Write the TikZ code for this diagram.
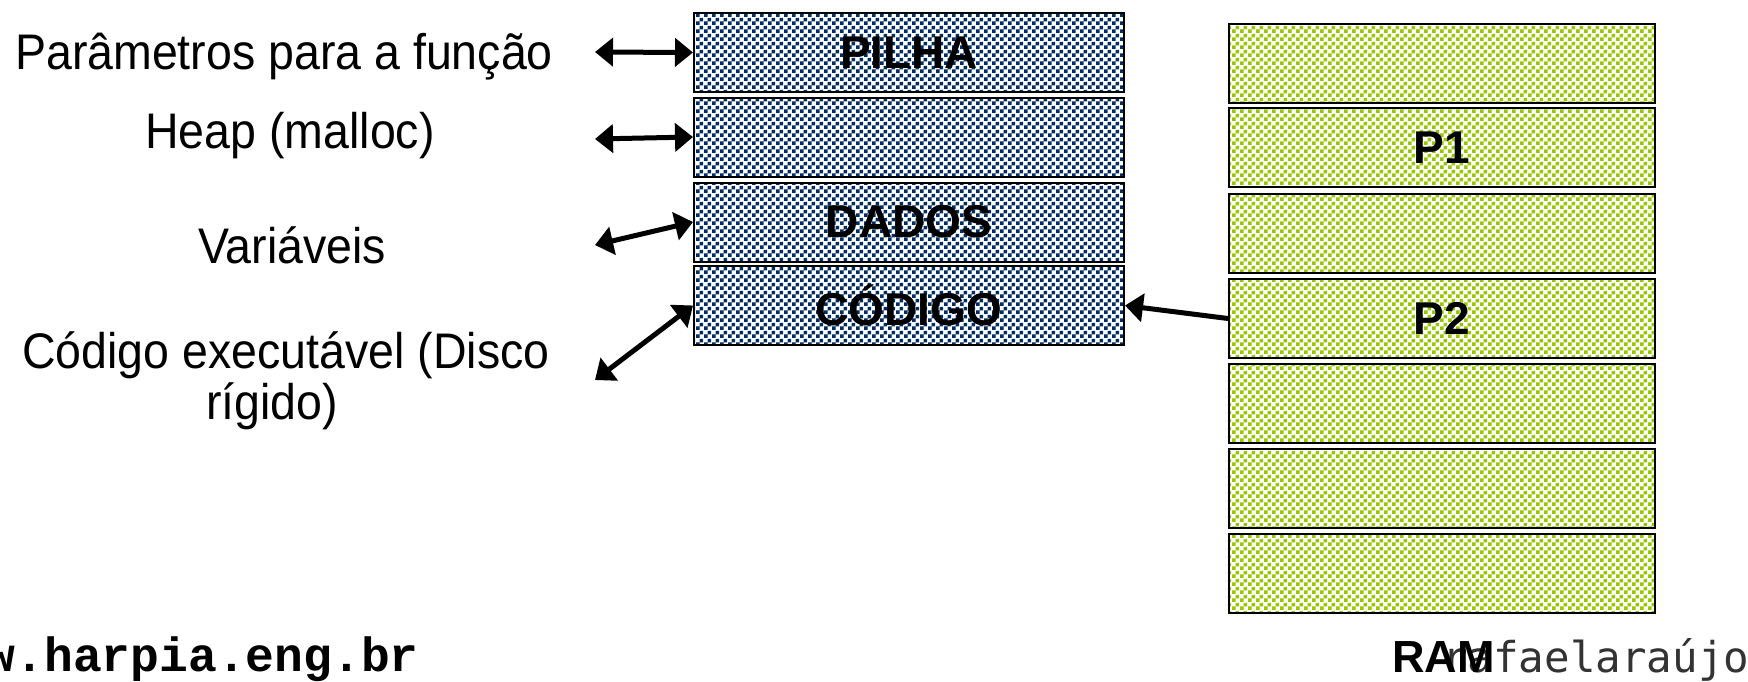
\documentclass[tikz,border=0pt]{standalone}
\usepackage{fontspec}
\setmainfont{Liberation Sans}
\newfontfamily\lblfont[FakeStretch=0.93]{Liberation Sans}
\newfontfamily\webfont{Liberation Mono}
\newfontfamily\sigfont{DejaVu Sans Mono}
\usetikzlibrary{arrows.meta,patterns}
\definecolor{navy}{RGB}{0,45,100}
\definecolor{lime}{RGB}{150,200,0}
\pgfdeclarepatternformonly{chk}{\pgfpointorigin}{\pgfqpoint{8pt}{8pt}}{\pgfqpoint{8pt}{8pt}}{%
  \pgfpathrectangle{\pgfpointorigin}{\pgfqpoint{4pt}{4pt}}%
  \pgfpathrectangle{\pgfqpoint{4pt}{4pt}}{\pgfqpoint{4pt}{4pt}}%
  \pgfusepath{fill}}
\begin{document}
\begin{tikzpicture}[x=1pt,y=-1pt,
  seg/.style={draw=black, line width=2pt, minimum width=430pt, minimum height=79pt,
    inner sep=0pt, pattern=chk, pattern color=navy,
    font=\fontsize{46}{46}\selectfont\bfseries},
  ramseg/.style={seg, minimum width=426pt, pattern color=lime},
  lbl/.style={anchor=base, inner sep=0pt, font=\lblfont\fontsize{50}{50}\selectfont},
  arr/.style={line width=5pt, {Triangle[length=18pt,width=28pt]}-{Triangle[length=18pt,width=28pt]}},
  onearr/.style={line width=5pt, -{Triangle[length=18pt,width=28pt]}},
  foot/.style={anchor=base west, inner sep=0pt}
]
\useasboundingbox (0,0) rectangle (1748,681);

% stack segments
\node[seg] (pilha)  at (909,52.5)  {PILHA};
\node[seg] (heap)   at (909,137)   {};
\node[seg] (dados)  at (909,222)   {DADOS};
\node[seg] (codigo) at (909,305.5) {CÓDIGO};

% RAM blocks
\node[ramseg] (r1) at (1442,63)    {};
\node[ramseg] (r2) at (1442,147.5) {P1};
\node[ramseg] (r3) at (1442,233)   {};
\node[ramseg] (r4) at (1442,318.5) {P2};
\node[ramseg] (r5) at (1442,403)   {};
\node[ramseg] (r6) at (1442,488.5) {};
\node[ramseg] (r7) at (1442,573.5) {};

% labels
\node[lbl] (lp) at (284,69)  {Parâmetros para a função};
\node[lbl] (lh) at (290,148) {Heap (malloc)};
\node[lbl] (lv) at (292,263) {Variáveis};
\node[lbl] (lc) at (286,368) {\begin{tabular}[t]{@{}c@{}}Código executável (Disco\\ rígido)\hspace*{28pt}\end{tabular}};

% arrows
\coordinate (e1) at (595,52);
\coordinate (e2) at (595,139);
\coordinate (e3) at (595,245);
\coordinate (e4) at (595,380);
\draw[arr] (e1) -- (pilha.west);
\draw[arr] (e2) -- (heap.west);
\draw[arr] (e3) -- (dados.west);
\draw[arr] (e4) -- (codigo.west);
\draw[onearr] (r4.west) -- (codigo.east);

% footer
\node[foot, font=\webfont\bfseries\fontsize{48}{48}\selectfont] (web) at (-13.5,671) {w.harpia.eng.br};
\node[foot, font=\sigfont\fontsize{42.5}{42.5}\selectfont, text=black!80] (sig) at (1442,672) {rafaelaraújo};
\node[foot, font=\bfseries\fontsize{45}{45}\selectfont] (ram) at (1392,672) {RAM};
\end{tikzpicture}
\end{document}
